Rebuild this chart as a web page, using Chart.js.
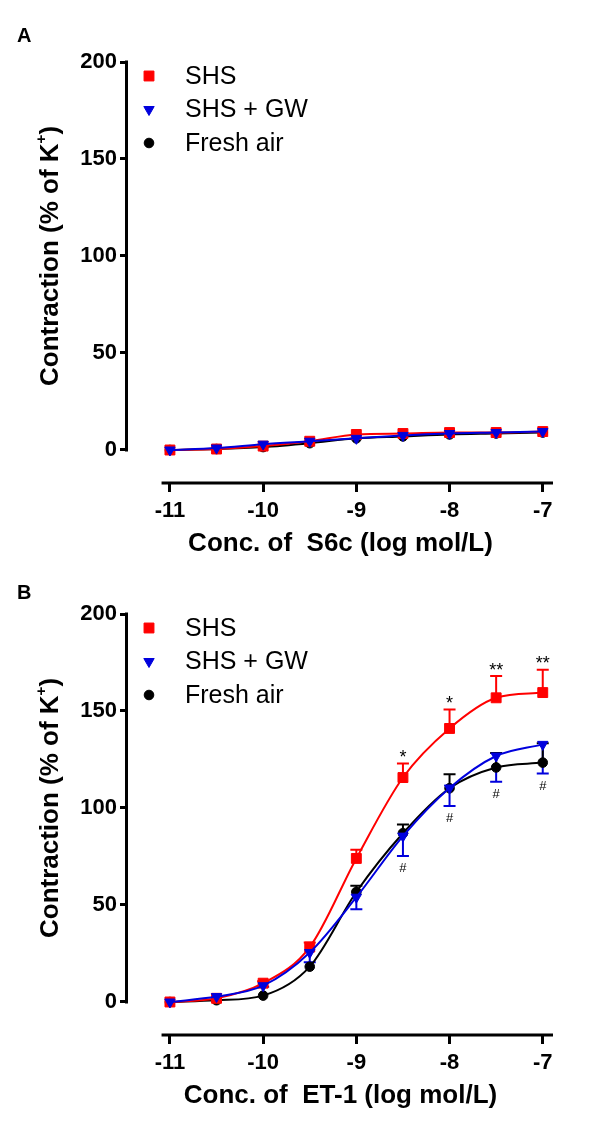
<!DOCTYPE html>
<html lang="en">
<head>
<meta charset="UTF-8">
<title>Contraction to S6c and ET-1</title>
<script src="https://cdn.jsdelivr.net/npm/chart.js@4"></script>
<style>
  body { margin: 0; background: #fff; font-family: "Liberation Sans", Arial, sans-serif; }
  #page { position: relative; width: 600px; height: 1137px; overflow: hidden; }
  .panel { position: absolute; left: 0; width: 600px; height: 585px; }
  .tag { position: absolute; left: 17px; font-size: 20px; font-weight: bold; line-height: 20px; }
</style>
</head>
<body>
<div id="page">
  <div class="panel" style="top:0"><canvas id="chartA"></canvas></div>
  <div class="panel" style="top:552px"><canvas id="chartB"></canvas></div>
  <div class="tag" style="top:25px">A</div>
  <div class="tag" style="top:582px">B</div>
</div>
<script>
// log concentration (mol/L) and axis ticks
const conc = [-11, -10.5, -10, -9.5, -9, -8.5, -8, -7.5, -7];
const xTicks = [-11, -10, -9, -8, -7];
const yTicks = [0, 50, 100, 150, 200];
const seriesNames = ['SHS', 'SHS + GW', 'Fresh air'];

// panel A: S6c, % of K+
const s6cShs = [0, 0.5, 2, 4.5, 8, 8.5, 9, 9, 9.5];
const s6cGw  = [0, 1, 3, 4.5, 6, 7.5, 8.5, 9, 9.5];
const s6cAir = [0, 0.5, 1.5, 3.5, 6, 7, 8, 8.5, 9];

// panel B: ET-1, mean and SEM
const et1Shs = [0, 1.9, 9.7, 28.3, 74, 115.7, 141, 156.8, 159.5];
const et1Gw  = [0, 2.8, 8.4, 25.5, 54, 85.5, 110.3, 126.8, 132.8];
const et1Air = [0, 0.9, 3.3, 18.2, 56.7, 87, 110.2, 120.9, 123.4];
const et1ShsSem = [0, 0, 1, 2.4, 4.5, 7.3, 9.8, 11.2, 11.8];
const et1GwSem  = [0, 0, 0.5, 5, 6.2, 10.2, 9.3, 13.3, 15];
const et1AirSem = [0, 0, 0, 0, 3.2, 4.5, 7.2, 7.5, 10];
const et1Stars  = ['', '', '', '', '', '*', '*', '**', '**'];
const et1Hashes = ['', '', '', '', '', '#', '#', '#', '#'];

const FONT = '"Liberation Sans", Arial, sans-serif';
const looks = [
  { color: '#ff0000', pointStyle: 'rect', radius: 7, rotation: 0, order: 1, errDir: 1 },
  { color: '#0000dd', pointStyle: 'triangle', radius: 6, rotation: 180, order: 0, errDir: -1 },
  { color: '#000000', pointStyle: 'circle', radius: 4.8, rotation: 0, order: 2, errDir: 1 }
];

// prism-like detached axes, error bars, marks and legend
const prismPlugin = {
  id: 'prism',
  beforeDatasetsDraw(chart) {
    const { ctx, chartArea, scales: { x, y } } = chart;
    ctx.save();
    ctx.strokeStyle = '#000';
    ctx.lineWidth = 3;
    ctx.beginPath();
    ctx.moveTo(chartArea.left - 1.5, y.getPixelForValue(0) + 1.5);
    ctx.lineTo(chartArea.left - 1.5, y.getPixelForValue(200) - 1.5);
    ctx.moveTo(x.getPixelForValue(-11.09), chartArea.bottom + 1);
    ctx.lineTo(chartArea.right, chartArea.bottom + 1);
    ctx.stroke();
    // one-sided SEM bars
    ctx.lineWidth = 2;
    chart.data.datasets.forEach(ds => {
      if (!ds.sem) return;
      ctx.strokeStyle = ds.borderColor;
      ds.data.forEach((p, i) => {
        if (!ds.sem[i]) return;
        const px = x.getPixelForValue(p.x);
        const y0 = y.getPixelForValue(p.y);
        const y1 = y.getPixelForValue(p.y + ds.errDir * ds.sem[i]);
        ctx.beginPath();
        ctx.moveTo(px, y0); ctx.lineTo(px, y1);
        ctx.moveTo(px - 6, y1); ctx.lineTo(px + 6, y1);
        ctx.stroke();
      });
    });
    ctx.restore();
  },
  afterDatasetsDraw(chart, args, opts) {
    const { ctx, chartArea, scales: { x, y } } = chart;
    const sets = chart.data.datasets;
    ctx.save();
    ctx.fillStyle = '#000';
    ctx.textAlign = 'center';
    // significance marks
    if (opts.stars) {
      ctx.font = '18px ' + FONT;
      ctx.textBaseline = 'alphabetic';
      const ds = sets[0];
      opts.stars.forEach((s, i) => {
        if (!s) return;
        const top = ds.data[i].y + ds.sem[i];
        ctx.fillText(s, x.getPixelForValue(conc[i]), y.getPixelForValue(top) - 0.5);
      });
    }
    if (opts.hashes) {
      ctx.font = '13px ' + FONT;
      ctx.textBaseline = 'middle';
      const ds = sets[1];
      opts.hashes.forEach((s, i) => {
        if (!s) return;
        const low = ds.data[i].y - ds.sem[i];
        ctx.fillText(s, x.getPixelForValue(conc[i]), y.getPixelForValue(low) + 12.5);
      });
    }
    // legend
    const drawPoint = Chart.helpers.drawPoint;
    ctx.textAlign = 'left';
    ctx.textBaseline = 'middle';
    ctx.font = '25px ' + FONT;
    sets.forEach((ds, k) => {
      const ly = chartArea.top + 14 + k * 33.5;
      ctx.fillStyle = ds.backgroundColor;
      ctx.strokeStyle = ds.borderColor;
      ctx.lineWidth = 1;
      drawPoint(ctx, { pointStyle: ds.pointStyle, radius: ds.pointRadius, rotation: ds.pointRotation, borderWidth: 1 }, 149, ly);
      ctx.fillStyle = '#000';
      ctx.fillText(ds.label, 185, ly + 1);
    });
    // y title with superscript +
    const cy = (y.getPixelForValue(0) + y.getPixelForValue(200)) / 2;
    const big = 'bold 26px ' + FONT, small = 'bold 15px ' + FONT;
    const parts = [['Contraction (% of K', big, 0], ['+', small, -9], [')', big, 0]];
    let total = 0;
    parts.forEach(p => { ctx.font = p[1]; total += ctx.measureText(p[0]).width; });
    ctx.translate(51, cy);
    ctx.rotate(-Math.PI / 2);
    let tx = -total / 2;
    parts.forEach(p => {
      ctx.font = p[1];
      ctx.fillText(p[0], tx, p[2]);
      tx += ctx.measureText(p[0]).width;
    });
    ctx.restore();
  }
};

function makePanel(id, xTitle, means, sems, stars, hashes) {
  const datasets = means.map((m, k) => ({
    label: seriesNames[k],
    data: conc.map((c, i) => ({ x: c, y: m[i] })),
    borderColor: looks[k].color,
    backgroundColor: looks[k].color,
    borderWidth: 2,
    pointStyle: looks[k].pointStyle,
    pointRadius: looks[k].radius,
    pointRotation: looks[k].rotation,
    pointBorderWidth: 1,
    cubicInterpolationMode: 'monotone',
    order: looks[k].order,
    sem: sems ? sems[k] : null,
    errDir: looks[k].errDir
  }));
  const tickFont = { family: FONT, size: 22, weight: 'bold' };
  return new Chart(document.getElementById(id), {
    type: 'line',
    data: { datasets },
    plugins: [prismPlugin],
    options: {
      responsive: true,
      maintainAspectRatio: false,
      animation: false,
      events: [],
      layout: { padding: { top: 62, right: 47, bottom: 0, left: 0 } },
      plugins: {
        legend: { display: false },
        tooltip: { enabled: false },
        prism: { stars, hashes }
      },
      scales: {
        x: {
          type: 'linear', min: -11.45, max: -6.89,
          afterBuildTicks: s => { s.ticks = xTicks.map(v => ({ value: v })); },
          afterFit: s => { s.height = 103; },
          border: { display: false },
          grid: { drawOnChartArea: false, tickLength: 10, lineWidth: 3, color: '#000' },
          ticks: { color: '#000', font: tickFont, padding: 6, maxRotation: 0 },
          title: { display: true, text: xTitle, color: '#000',
                   font: { family: FONT, size: 26, weight: 'bold' }, padding: { top: 0, bottom: 26 } }
        },
        y: {
          type: 'linear', min: -16.5, max: 200,
          afterBuildTicks: s => { s.ticks = yTicks.map(v => ({ value: v })); },
          afterFit: s => { s.width = 128; },
          border: { display: false },
          grid: { drawOnChartArea: false, tickLength: 8, lineWidth: 3, color: '#000' },
          ticks: { color: '#000', font: tickFont, padding: 3 }
        }
      }
    }
  });
}

makePanel('chartA', 'Conc. of  S6c (log mol/L)', [s6cShs, s6cGw, s6cAir], null, null, null);
makePanel('chartB', 'Conc. of  ET-1 (log mol/L)', [et1Shs, et1Gw, et1Air],
  [et1ShsSem, et1GwSem, et1AirSem], et1Stars, et1Hashes);
</script>
</body>
</html>
